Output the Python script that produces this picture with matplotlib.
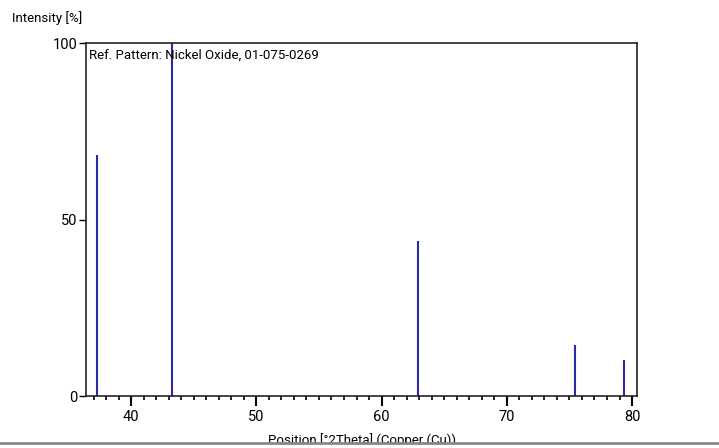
import matplotlib
matplotlib.use("Agg")
import matplotlib.pyplot as plt
from matplotlib.ticker import MultipleLocator
from matplotlib.patches import Rectangle
from matplotlib.lines import Line2D

positions = [37.25, 43.29, 62.88, 75.42, 79.38]
intensities = [68.3, 100.0, 43.9, 14.4, 10.2]
x_ticks = [40, 50, 60, 70, 80]
y_ticks = [0, 50, 100]

plt.rcParams['font.family'] = ['Roboto', 'DejaVu Sans']

fig = plt.figure(figsize=(7.19, 4.48), dpi=100)
ax = fig.add_axes([0.1196, 0.116, 0.7664, 0.788])

ax.vlines(positions, 0, intensities, colors='#2a2aa8', linewidth=1.5)
ax.set_xlim(36.4, 80.4)
ax.set_ylim(0, 100)
ax.set_xticks(x_ticks)
ax.set_yticks(y_ticks)
ax.xaxis.set_minor_locator(MultipleLocator(1))
ax.tick_params(axis='x', which='major', direction='out', length=7, width=1.5, labelsize=10.5, pad=3)
ax.tick_params(axis='x', which='minor', direction='out', length=3, width=1.2)
ax.tick_params(axis='y', which='major', direction='out', length=5, width=1, labelsize=10.5, pad=1)
for s in ax.spines.values():
    s.set_linewidth(1.2)
    s.set_color('#222222')

ax.text(0.005, 0.985, 'Ref. Pattern: Nickel Oxide, 01-075-0269', transform=ax.transAxes,
        ha='left', va='top', fontsize=9.5)
fig.text(12/719, 1 - 18/448, 'Intensity [%]', ha='left', va='center', fontsize=9.5)
fig.text(362/719, 1 - 440/448, 'Position [°2Theta] (Copper (Cu))', ha='center', va='center', fontsize=9.5)

fig.add_artist(Rectangle((0, 0), 1, 4/448, transform=fig.transFigure, facecolor='white',
                         edgecolor='none', zorder=10))
fig.add_artist(Line2D([0, 1], [5/448, 5/448], transform=fig.transFigure, color='#888888',
                      linewidth=2, zorder=11))

fig.savefig('out.png', dpi=100)
